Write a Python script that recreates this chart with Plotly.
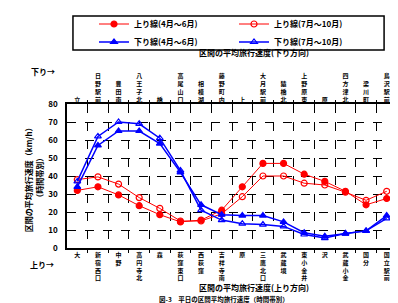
import plotly.graph_objects as go

# ---- data ----
bottom_labels = ["大", "新宿西口", "中野", "高円寺北", "森", "荻窪東口", "西荻窪", "吉祥寺南",
                 "原", "三鷹北口", "武蔵境", "東小金井", "沢", "武蔵小金", "国分", "国立駅前"]
top_labels = ["立", "日野駅前", "豊田南", "八王子北", "橋", "高尾山口", "相模湖", "藤野町内",
              "上", "大月駅前", "猿橋北", "上野原東", "原", "四方津北", "梁川町", "鳥沢駅前"]
series_names = ["上り線(4月～6月)", "上り線(7月～10月)", "下り線(4月～6月)", "下り線(7月～10月)"]
up_1 = [32, 34, 29.5, 23.5, 18.5, 14.5, 15.5, 21, 34, 47, 47, 41, 37, 31.5, 24, 27.5]
up_2 = [38, 39.5, 35.5, 28, 22, 15, 15, 19, 28.5, 40, 40, 36, 35, 31, 26.5, 31.5]
down_1 = [34, 57, 65, 65, 58, 42, 24, 18.5, 18, 18, 14.5, 8.5, 6.5, 8, 9.5, 18]
down_2 = [37, 62, 70, 69, 61, 43, 21, 15.5, 13.5, 13, 12, 7.5, 5.5, 8, 9.5, 16.5]
y_ticks = [0, 10, 20, 30, 40, 50, 60, 70, 80]

W, H = 398, 303
L, R, T, B = 59, 7, 96, 63
PW, PH = W - L - R, H - T - B

def px2x(px):
    return (px - L) / PW

def py2y(py):
    return (H - B - py) / PH

n = len(bottom_labels)
xs = [i + 0.5 for i in range(n)]
FONT = "Noto Sans CJK JP"

def vert(s):
    return "<br>".join(list(s))

fig = go.Figure()
styles = [
    (up_1, "red", "circle", 1, "legend"),
    (up_2, "red", "circle-open", 1, "legend"),
    (down_1, "blue", "triangle-up", 1.5, "legend2"),
    (down_2, "blue", "triangle-up-open", 1.5, "legend2"),
]
for (vals, col, sym, lw, lg), name in zip(styles, series_names):
    fig.add_trace(go.Scatter(
        x=xs, y=vals, name=name, mode="lines+markers", legend=lg,
        line=dict(color=col, width=lw),
        marker=dict(symbol=sym, size=6, color=col, line=dict(color=col, width=1.2)),
    ))
# invisible trace for top axis
fig.add_trace(go.Scatter(x=xs, y=[None] * n, xaxis="x2", showlegend=False, hoverinfo="skip"))

def legend_row(ycenter):
    return dict(
        orientation="h", xref="container", yref="container",
        x=86 / W, y=1 - ycenter / H, xanchor="left", yanchor="middle",
        entrywidth=95, entrywidthmode="pixels",
        font=dict(size=8, family=FONT, color="black", weight="bold"),
        bgcolor="rgba(0,0,0,0)", borderwidth=0, itemwidth=30,
    )

fig.update_layout(
    width=W, height=H,
    margin=dict(l=L, r=R, t=T, b=B),
    paper_bgcolor="white", plot_bgcolor="white",
    font=dict(family=FONT, size=8, color="black"),
    showlegend=True,
    legend=legend_row(16),
    legend2=legend_row(34),
    xaxis=dict(
        range=[0, n], tickvals=xs, ticktext=[vert(s) for s in bottom_labels],
        tickangle=0, showgrid=False, zeroline=False,
        showline=True, linecolor="black", linewidth=1.5, mirror=True,
        ticks="", tickfont=dict(size=6, weight="bold"),
        minor=dict(tickvals=list(range(1, n)), showgrid=True, gridcolor="black",
                   griddash="dash", gridwidth=1, ticks="outside", ticklen=3, tickcolor="black"),
    ),
    xaxis2=dict(
        range=[0, n], overlaying="x", side="top", tickvals=xs,
        ticktext=[vert(s) for s in top_labels], tickangle=0,
        showgrid=False, zeroline=False, showline=False, ticks="",
        tickfont=dict(size=6, weight="bold"),
        minor=dict(tickvals=list(range(1, n)), ticks="outside", ticklen=3, tickcolor="black"),
    ),
    yaxis=dict(
        range=[0, 80], tickvals=y_ticks, showgrid=True, gridcolor="black",
        griddash="dash", gridwidth=1, zeroline=False,
        showline=True, linecolor="black", linewidth=1.5, mirror=True,
        tickfont=dict(size=8, weight="bold"), ticks="", ticklabelstandoff=6,
    ),
)

# legend frame
fig.add_shape(type="rect", xref="paper", yref="paper",
              x0=px2x(65), x1=px2x(378), y0=py2y(42), y1=py2y(8),
              line=dict(color="black", width=1.5), fillcolor="rgba(0,0,0,0)")

ann = [
    dict(text="<b>区間の平均旅行速度(下り方向)</b>", x=px2x(247), y=py2y(45), size=8),
    dict(text="<b>区間の平均旅行速度(上り方向)</b>", x=px2x(247), y=py2y(279), size=8),
    dict(text="<b>下り→</b>", x=px2x(35), y=py2y(64), size=8),
    dict(text="<b>上り→</b>", x=px2x(34), y=py2y(256), size=8),
    dict(text="<b>図-3　平日の区間平均旅行速度（時間帯別）</b>", x=px2x(217), y=py2y(291), size=6.5),
]
for a in ann:
    fig.add_annotation(text=a["text"], x=a["x"], y=a["y"], xref="paper", yref="paper",
                       showarrow=False, font=dict(size=a["size"], family=FONT, color="black"),
                       xanchor="center", yanchor="middle")
fig.add_annotation(text="<b>区間の平均旅行速度（km/h）<br>（時間帯別）</b>",
                   x=px2x(25), y=py2y(170), xref="paper", yref="paper", showarrow=False,
                   textangle=-90, font=dict(size=8, family=FONT, color="black"),
                   xanchor="center", yanchor="middle")

fig.write_html("out.html")
